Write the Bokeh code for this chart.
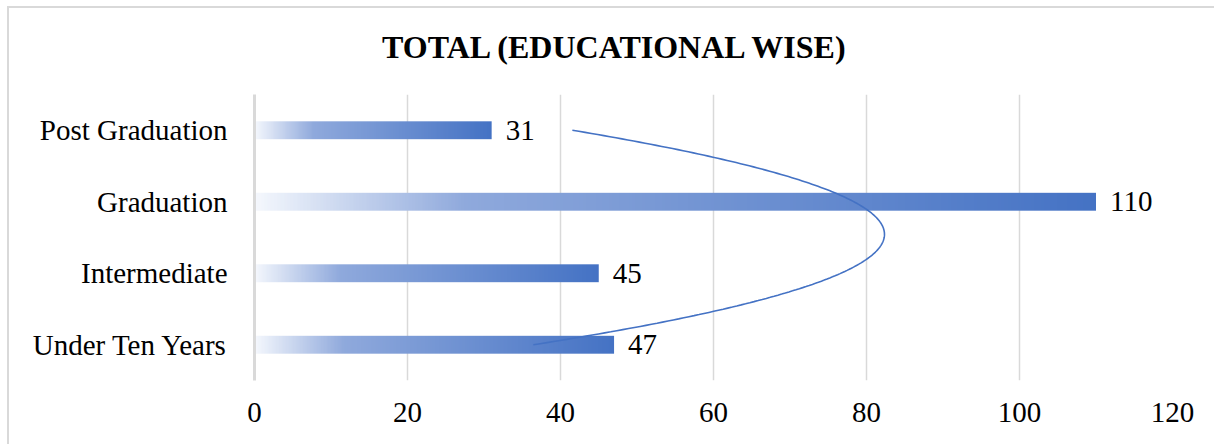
import numpy as np
from bokeh.plotting import figure
from bokeh.models import Range1d, FixedTicker, ColumnDataSource, Div
from bokeh.layouts import column
from bokeh.core.properties import value
from bokeh.embed import file_html
from bokeh.resources import INLINE

# ---- data (bottom to top) ----
categories = ["Under Ten Years", "Intermediate", "Graduation", "Post Graduation"]
counts = [47, 45, 110, 31]
x_ticks = [0, 20, 40, 60, 80, 100, 120]
title_text = "TOTAL (EDUCATIONAL WISE)"

FONT = "Liberation Serif"
positions = list(range(1, len(categories) + 1))
BAR_H = 0.25
BORDER = "2px solid #d9d9d9"

title_div = Div(
    text=('<div style="line-height:78px; text-align:left; font-family:\'Liberation Serif\', serif; '
          'font-size:32px; font-weight:bold; color:black; padding-left:373px; white-space:nowrap">'
          + title_text + '</div>'),
    width=1207, height=88, margin=0,
    styles={"border-left": BORDER, "border-top": BORDER, "box-sizing": "border-box",
            "background": "white", "overflow": "hidden"})

p = figure(width=1207, height=350, output_backend="svg", toolbar_location=None,
           x_range=Range1d(0, 120), y_range=Range1d(0.5, len(categories) + 0.5),
           min_border_left=245, min_border_right=44, min_border_top=0, min_border_bottom=64,
           margin=0, styles={"border-left": BORDER, "box-sizing": "border-box"})
p.outline_line_color = None
p.background_fill_color = "white"
p.border_fill_color = "white"

# gradient bars (one smooth gradient image per bar, stretched to the bar's value)
stops_f = [0.0, 0.25, 1.0]
stops_c = np.array([(245, 248, 253), (143, 169, 220), (68, 114, 196)], dtype=float)
W = 256
f = (np.arange(W) + 0.5) / W
rgb = np.stack([np.interp(f, stops_f, stops_c[:, j]) for j in range(3)], axis=1).round().astype(np.uint32)
packed = (255 << 24) | (rgb[:, 2] << 16) | (rgb[:, 1] << 8) | rgb[:, 0]
grad = packed.reshape(1, W).astype(np.uint32)
p.image_rgba(image=[grad] * len(counts), x=[0] * len(counts),
             y=[pos - BAR_H / 2 for pos in positions], dw=counts, dh=[BAR_H] * len(counts))

# polynomial (order 2) trendline
coef = np.polyfit(positions, counts, 2)
ty = np.linspace(positions[0], positions[-1], 200)
tx = np.polyval(coef, ty)
p.line(tx, ty, line_color="#4472c4", line_width=1.6)

# value labels
lab = ColumnDataSource(dict(x=counts, y=positions, t=[str(v) for v in counts]))
p.text(x="x", y="y", text="t", source=lab, x_offset=14, y_offset=0, text_baseline="middle",
       text_align="left", text_font=value(FONT), text_font_size="29px", text_color="black")

# axes
p.xaxis.ticker = FixedTicker(ticks=x_ticks)
p.xaxis.axis_line_color = None
p.xaxis.major_tick_line_color = None
p.xaxis.minor_tick_line_color = None
p.xaxis.major_label_standoff = 16
p.xaxis.major_label_text_font = FONT
p.xaxis.major_label_text_font_size = "29px"
p.xaxis.major_label_text_color = "black"

p.yaxis.ticker = FixedTicker(ticks=positions)
p.yaxis.major_label_overrides = {pos: c for pos, c in zip(positions, categories)}
p.yaxis.axis_line_color = "#d9d9d9"
p.yaxis.axis_line_width = 3
p.yaxis.major_tick_line_color = None
p.yaxis.minor_tick_line_color = None
p.yaxis.major_label_standoff = 21
p.yaxis.major_label_text_font = FONT
p.yaxis.major_label_text_font_size = "29px"
p.yaxis.major_label_text_color = "black"

p.xgrid.grid_line_color = "#d9d9d9"
p.xgrid.grid_line_width = 1.5
p.ygrid.grid_line_color = None

layout = column(title_div, p, spacing=0, margin=(6, 0, 0, 7))

open("out.html", "w").write(file_html(layout, INLINE))
